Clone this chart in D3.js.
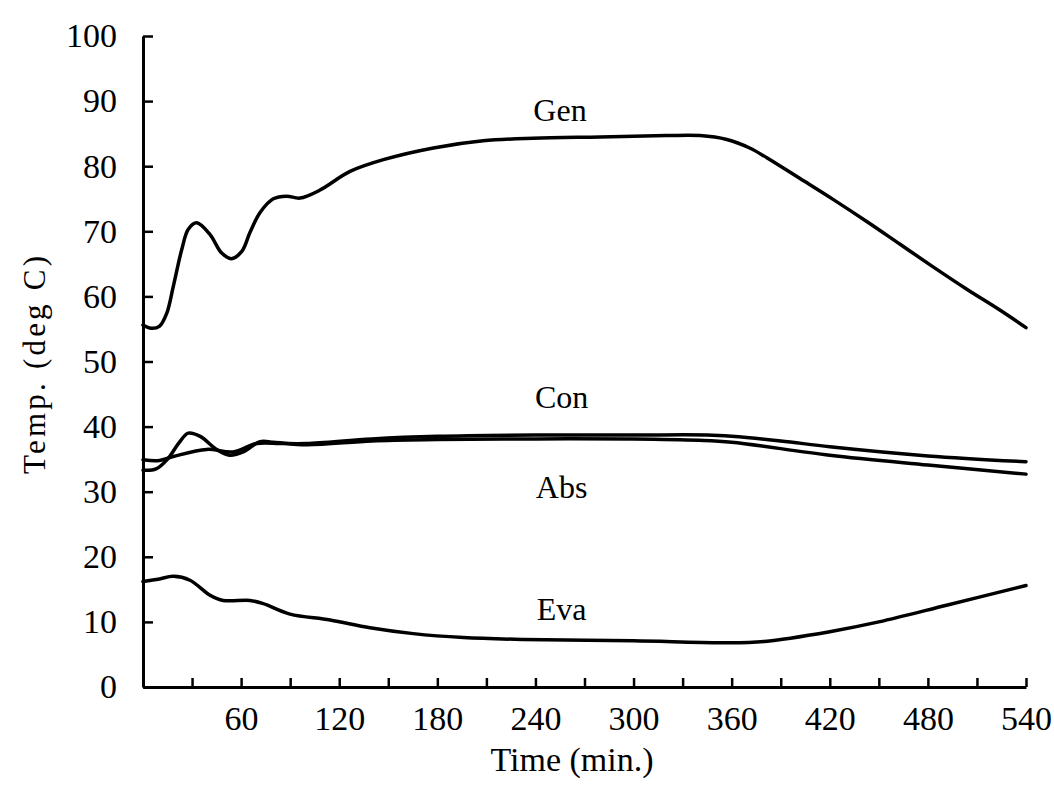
<!DOCTYPE html>
<html>
<head>
<meta charset="utf-8">
<script src="https://cdn.jsdelivr.net/npm/d3@7"></script>
<style>
  html, body { margin: 0; padding: 0; background: #fff; }
  svg { display: block; }
  text { font-family: "Liberation Serif", "Times New Roman", serif; fill: #000; }
</style>
</head>
<body>
<svg id="chart" width="1054" height="794"></svg>
<script>
// ---- Data (time in minutes, temperature in deg C) ----
const genTime = [0, 5, 10, 14.5, 18.5, 23.7, 27.7, 32.8, 41, 48, 54, 60.4, 65.4, 71.6, 79.7, 87.9, 96, 108, 126.6, 147, 177.6, 208, 238.6, 279.5, 320, 340.7, 357, 371, 381.5, 401.8, 422, 442.6, 463, 483.4, 503.8, 524, 540];
const genTemp = [55.6, 55.1, 55.4, 57.4, 61.5, 67.2, 70.3, 71.3, 69.5, 66.7, 65.8, 66.9, 69.8, 72.9, 75.0, 75.4, 75.1, 76.3, 79.2, 81.0, 82.8, 83.9, 84.3, 84.5, 84.7, 84.7, 84.1, 82.8, 81.3, 78.1, 74.9, 71.5, 68.0, 64.5, 61.1, 57.9, 55.2];

const conTime = [0, 10, 18.5, 39, 55, 69.5, 84, 100, 140, 180, 240, 300, 345, 360, 390, 420, 480, 540];
const conTemp = [34.9, 34.8, 35.4, 36.5, 36.1, 37.4, 37.4, 37.4, 38.1, 38.5, 38.7, 38.7, 38.7, 38.5, 37.8, 36.9, 35.5, 34.6];

const absTime = [0, 8, 15, 22, 27.7, 35, 45, 53, 62, 71.5, 80, 100, 140, 180, 240, 300, 340, 360, 420, 480, 540];
const absTemp = [33.3, 33.5, 35.0, 37.5, 39.0, 38.5, 36.5, 35.6, 36.2, 37.7, 37.6, 37.2, 37.8, 38.0, 38.1, 38.1, 37.9, 37.6, 35.6, 34.1, 32.7];

const evaTime = [0, 10, 18.5, 28.7, 41, 49, 65.4, 73.6, 89.9, 114.4, 138.8, 165.3, 195.9, 232.6, 300, 355, 380, 420, 450, 492, 540];
const evaTemp = [16.2, 16.6, 17.0, 16.4, 14.1, 13.3, 13.3, 12.8, 11.2, 10.3, 9.1, 8.2, 7.6, 7.3, 7.1, 6.8, 7.0, 8.5, 10.0, 12.6, 15.6];

const seriesNames = ["Gen", "Con", "Abs", "Eva"];
const labelTime = [255, 256, 256, 256];
const labelTemp = [87.0, 42.9, 29.0, 10.3];

const xTickValues = [30, 60, 90, 120, 150, 180, 210, 240, 270, 300, 330, 360, 390, 420, 450, 480, 510, 540];
const xTickLabels = [60, 120, 180, 240, 300, 360, 420, 480, 540];
const yTickValues = [0, 10, 20, 30, 40, 50, 60, 70, 80, 90, 100];

// ---- Layout ----
const margin = { left: 143, top: 36, right: 28, bottom: 107 };
const W = 1054, H = 794;
const svg = d3.select("#chart");

const x = d3.scaleLinear().domain([0, 540]).range([margin.left, W - margin.right]);
const y = d3.scaleLinear().domain([0, 100]).range([H - margin.bottom, margin.top]);

const fontSize = 34;

// X axis
const xAxis = d3.axisBottom(x)
  .tickValues(xTickValues)
  .tickSizeInner(-9)
  .tickSizeOuter(0)
  .tickPadding(19)
  .tickFormat(d => xTickLabels.includes(d) ? String(d) : "");
const gx = svg.append("g").attr("transform", `translate(0,${y(0)})`).call(xAxis);
gx.select(".domain").attr("stroke", "#000").attr("stroke-width", 3);
gx.selectAll(".tick line").attr("stroke", "#000").attr("stroke-width", 2.5);
gx.selectAll(".tick text").attr("font-size", fontSize).attr("font-family", "Liberation Serif, serif");

// Y axis
const yAxis = d3.axisLeft(y)
  .tickValues(yTickValues)
  .tickSizeInner(-10)
  .tickSizeOuter(0)
  .tickPadding(26)
  .tickFormat(d3.format("d"));
const gy = svg.append("g").attr("transform", `translate(${x(0)},0)`).call(yAxis);
gy.select(".domain").attr("stroke", "#000").attr("stroke-width", 3);
gy.selectAll(".tick line").attr("stroke", "#000").attr("stroke-width", 2.5);
gy.selectAll(".tick text").attr("font-size", fontSize).attr("font-family", "Liberation Serif, serif");

// Lines
const line = d3.line()
  .x(d => x(d[0]))
  .y(d => y(d[1]))
  .curve(d3.curveCatmullRom.alpha(0.5));

const seriesData = [
  d3.zip(genTime, genTemp),
  d3.zip(conTime, conTemp),
  d3.zip(absTime, absTemp),
  d3.zip(evaTime, evaTemp)
];

svg.append("g").selectAll("path")
  .data(seriesData)
  .join("path")
  .attr("d", line)
  .attr("fill", "none")
  .attr("stroke", "#000")
  .attr("stroke-width", 3.5)
  .attr("stroke-linejoin", "round")
  .attr("stroke-linecap", "round");

// Series labels
svg.append("g").selectAll("text")
  .data(seriesNames)
  .join("text")
  .attr("x", (d, i) => x(labelTime[i]))
  .attr("y", (d, i) => y(labelTemp[i]))
  .attr("text-anchor", "middle")
  .attr("font-size", 32)
  .text(d => d);

// Axis titles
svg.append("text")
  .attr("x", 572)
  .attr("y", 771)
  .attr("text-anchor", "middle")
  .attr("font-size", 34)
  .text("Time (min.)");

svg.append("text")
  .attr("transform", `translate(45,365) rotate(-90)`)
  .attr("text-anchor", "middle")
  .attr("font-size", 31)
  .attr("textLength", 218)
  .attr("lengthAdjust", "spacing")
  .text("Temp. (deg C)");
</script>
</body>
</html>
